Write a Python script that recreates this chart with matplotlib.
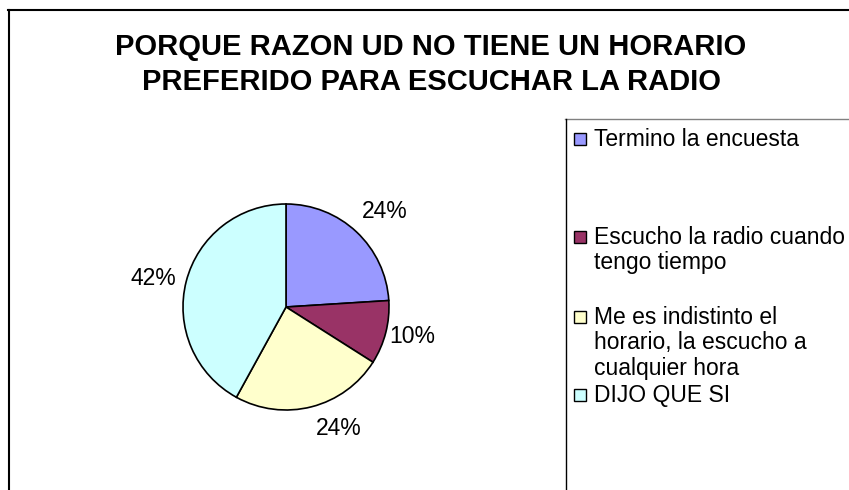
import textwrap

import matplotlib

matplotlib.use("Agg")
import matplotlib.pyplot as plt
from matplotlib.lines import Line2D
from matplotlib.patches import Rectangle

# ---- data -------------------------------------------------------------
TITLE_LINES = ["PORQUE RAZON UD NO TIENE UN HORARIO",
               "PREFERIDO PARA ESCUCHAR LA RADIO"]
categories = [
    "Termino la encuesta",
    "Escucho la radio cuando tengo tiempo",
    "Me es indistinto el horario, la escucho a cualquier hora",
    "DIJO QUE SI",
]
shares = [24, 10, 24, 42]
colors = ["#9999ff", "#993366", "#ffffcc", "#ccffff"]

# ---- layout (pixels, origin top-left) ---------------------------------
W, H = 849, 490
PIE_C, PIE_R = (286, 307), 103
# label centres relative to the pie, in radius units (Excel puts them outside)
LABEL_XY = [(0.96, 0.93), (1.23, -0.29), (0.51, -1.18), (-1.29, 0.28)]
TITLE_Y = [47, 82]
LEGEND_Y = [139, 237, 317, 395]
LINE_STEP = 25.5

plt.rcParams["font.family"] = ["Liberation Sans", "DejaVu Sans"]


def fx(x):
    return x / W


def fy(y):
    return 1 - y / H


fig = plt.figure(figsize=(W / 100, H / 100), dpi=100)
fig.patch.set_facecolor("white")

# outer chart frame (cut off at right and bottom in the screenshot)
fig.add_artist(Line2D([fx(8), fx(W)], [fy(10.5), fy(10.5)], color="black", lw=1.5))
fig.add_artist(Line2D([fx(8.5), fx(8.5)], [fy(10), fy(H)], color="black", lw=1.5))

for line, y in zip(TITLE_LINES, TITLE_Y):
    fig.text(fx(431), fy(y), line, ha="center", va="center", fontsize=21,
             fontweight="bold")

# pie
ax = fig.add_axes([fx(PIE_C[0] - PIE_R), fy(PIE_C[1] + PIE_R),
                   2 * PIE_R / W, 2 * PIE_R / H])
wedges, _ = ax.pie(shares, colors=colors, startangle=90, counterclock=False,
                   radius=1, wedgeprops=dict(edgecolor="black", linewidth=1.2))
ax.set_xlim(-1, 1)
ax.set_ylim(-1, 1)
ax.set_aspect("equal")
ax.axis("off")
for v, (lx, ly) in zip(shares, LABEL_XY):
    ax.text(lx, ly, f"{v}%", ha="center", va="center", fontsize=16.5,
            clip_on=False)

# legend box
fig.add_artist(Line2D([fx(565), fx(W)], [fy(119), fy(119)], color="#808080", lw=1))
fig.add_artist(Line2D([fx(565.5), fx(565.5)], [fy(119), fy(H)], color="black", lw=1))
for name, col, y0 in zip(categories, colors, LEGEND_Y):
    fig.add_artist(Rectangle((fx(574), fy(y0 + 6)), 12 / W, 12 / H,
                             facecolor=col, edgecolor="black", lw=1,
                             transform=fig.transFigure))
    for i, line in enumerate(textwrap.wrap(name, 23)):
        fig.text(fx(594), fy(y0 + i * LINE_STEP), line, ha="left",
                 va="center", fontsize=16.5)

fig.savefig("out.png", dpi=100)
